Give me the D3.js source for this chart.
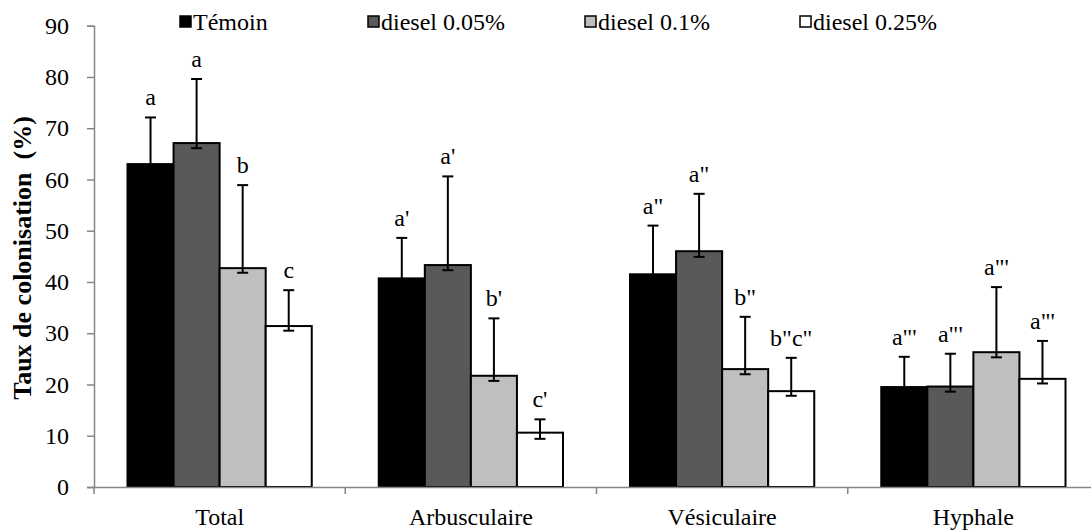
<!DOCTYPE html>
<html>
<head>
<meta charset="utf-8">
<script src="https://cdn.jsdelivr.net/npm/d3@7"></script>
<style>
  html, body { margin: 0; padding: 0; background: #fff; }
  svg { display: block; }
</style>
</head>
<body>
<svg id="chart" width="1091" height="531"></svg>
<script>
// Colonisation rate per root structure and treatment
const categories = ["Total", "Arbusculaire", "Vésiculaire", "Hyphale"];
const seriesNames = ["Témoin", "diesel 0.05%", "diesel 0.1%", "diesel 0.25%"];

const temoin   = [63.0, 40.7, 41.5, 19.5];
const diesel005 = [67.1, 43.3, 46.0, 19.6];
const diesel01 = [42.7, 21.7, 23.0, 26.3];
const diesel025 = [31.4, 10.6, 18.7, 21.1];

// upper and lower error amounts
const errPlus = [
  [9.1, 7.9, 9.5, 5.9],
  [12.5, 17.3, 11.2, 6.4],
  [16.2, 11.2, 10.2, 12.7],
  [7.0, 2.6, 6.5, 7.4]
];
const errMinus = [
  [1.0, 1.0, 1.0, 1.0],
  [1.0, 1.0, 1.1, 1.0],
  [0.9, 1.0, 1.0, 1.0],
  [0.9, 1.2, 0.9, 0.9]
];

// significance letters
const letters = [
  ["a", "a'", "a\"", "a\"'"],
  ["a", "a'", "a\"", "a\"'"],
  ["b", "b'", "b\"", "a\"'"],
  ["c", "c'", "b\"c\"", "a\"'"]
];

const yTicks = [0, 10, 20, 30, 40, 50, 60, 70, 80, 90];
const colors = ["#000000", "#595959", "#bfbfbf", "#ffffff"];

const values = [temoin, diesel005, diesel01, diesel025];

const FONT = "'Liberation Serif', 'Times New Roman', serif";
const svg = d3.select("#chart");
const plotLeft = 94, plotRight = 1099, plotTop = 25.7, plotBottom = 487;

const y = d3.scaleLinear().domain([0, 90]).range([plotBottom, plotTop]);
const x = d3.scaleBand().domain(categories).range([plotLeft, plotRight]);
const xs = d3.scaleBand().domain(d3.range(seriesNames.length))
  .range([33.5, x.bandwidth() - 33.5]);

// y axis
const yAxis = svg.append("g").attr("transform", `translate(${plotLeft},0)`)
  .call(d3.axisLeft(y).tickValues(yTicks).tickSize(7).tickPadding(18));
yAxis.select(".domain").attr("stroke", "#868686").attr("stroke-width", 1.5);
yAxis.selectAll(".tick line").attr("stroke", "#868686").attr("stroke-width", 1.5);
yAxis.selectAll(".tick text").style("font-family", FONT)
  .style("font-size", "24px").attr("fill", "#000");

// bars
const rows = [];
values.forEach((arr, s) => arr.forEach((v, c) => rows.push({
  s, c, v, ep: errPlus[s][c], em: errMinus[s][c], lab: letters[s][c]
})));

const g = svg.append("g");
g.selectAll("rect.bar").data(rows).enter().append("rect")
  .attr("class", "bar")
  .attr("x", d => x(categories[d.c]) + xs(d.s))
  .attr("y", d => y(d.v))
  .attr("width", xs.bandwidth())
  .attr("height", d => y(0) - y(d.v))
  .attr("fill", d => colors[d.s])
  .attr("stroke", "#000")
  .attr("stroke-width", 2);

// error bars
const cx = d => x(categories[d.c]) + xs(d.s) + xs.bandwidth() / 2;
const eb = g.selectAll("g.err").data(rows).enter().append("g").attr("class", "err");
eb.append("line")
  .attr("x1", cx).attr("x2", cx)
  .attr("y1", d => y(d.v - d.em)).attr("y2", d => y(d.v + d.ep))
  .attr("stroke", "#000").attr("stroke-width", 2);
eb.append("line")
  .attr("x1", d => cx(d) - 5.5).attr("x2", d => cx(d) + 5.5)
  .attr("y1", d => y(d.v + d.ep)).attr("y2", d => y(d.v + d.ep))
  .attr("stroke", "#000").attr("stroke-width", 2);
eb.append("line")
  .attr("x1", d => cx(d) - 5.5).attr("x2", d => cx(d) + 5.5)
  .attr("y1", d => y(d.v - d.em)).attr("y2", d => y(d.v - d.em))
  .attr("stroke", "#000").attr("stroke-width", 2);

// letters above error bars
g.selectAll("text.lab").data(rows).enter().append("text")
  .attr("class", "lab")
  .attr("x", cx)
  .attr("y", d => y(d.v + d.ep) - 12)
  .attr("text-anchor", "middle")
  .style("font-family", FONT)
  .style("font-size", "24px")
  .attr("fill", "#000")
  .text(d => d.lab);

// x axis
const xAxis = svg.append("g").attr("transform", `translate(0,${plotBottom})`)
  .call(d3.axisBottom(x).tickSize(0).tickPadding(21));
xAxis.select(".domain").attr("stroke", "#868686").attr("stroke-width", 1.5);
xAxis.selectAll(".tick text").style("font-family", FONT)
  .style("font-size", "24px").attr("fill", "#000");
// category separators
xAxis.selectAll("line.sep").data(categories.map(c => x(c)).concat([plotRight])).enter()
  .append("line").attr("class", "sep")
  .attr("x1", d => d).attr("x2", d => d)
  .attr("y1", 0).attr("y2", 7)
  .attr("stroke", "#868686").attr("stroke-width", 1.5);

// y axis title
svg.append("text")
  .attr("transform", `translate(31,258) rotate(-90)`)
  .attr("text-anchor", "middle")
  .style("font-family", FONT)
  .style("font-size", "26px")
  .style("font-weight", "bold")
  .style("white-space", "pre")
  .attr("fill", "#000")
  .text("Taux de colonisation  (%)");

// legend
const legendX = [180, 368, 585, 800];
const leg = svg.append("g");
seriesNames.forEach((n, i) => {
  leg.append("rect")
    .attr("x", legendX[i]).attr("y", 16)
    .attr("width", 11).attr("height", 11)
    .attr("fill", colors[i]).attr("stroke", "#000").attr("stroke-width", 1.5);
  leg.append("text")
    .attr("x", legendX[i] + 13).attr("y", 30)
    .style("font-family", FONT)
    .style("font-size", "24px")
    .attr("fill", "#000")
    .text(n);
});
</script>
</body>
</html>
